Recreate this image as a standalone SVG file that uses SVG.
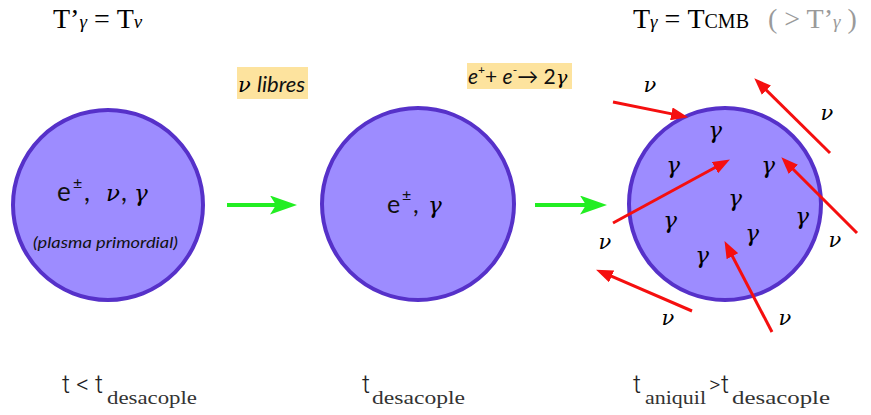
<svg xmlns="http://www.w3.org/2000/svg" width="871" height="415" viewBox="0 0 871 415">
<style>
.ball{fill:#9d8cff;stroke:#5631c9;stroke-width:4}
.ser{font-family:"Liberation Serif","DejaVu Serif",serif;fill:#000}
.sans{font-family:Lato,"Open Sans","Liberation Sans",sans-serif;fill:#111}
.gi{font-family:"DejaVu Serif","Liberation Serif",serif;font-style:italic;fill:#000}
.red{stroke:#f50f0f;stroke-width:3;fill:none}
.grn{stroke:#22ee22;stroke-width:4;fill:none}
.tag{fill:#fde39e}
.bot{font-family:Roboto,"Liberation Sans",sans-serif;font-weight:300;fill:#222}
.sub{font-family:"Liberation Serif","DejaVu Serif",serif;fill:#333}
</style>
<defs>
<marker id="rh" markerUnits="userSpaceOnUse" markerWidth="17" markerHeight="13" refX="8" refY="6.5" orient="auto" viewBox="0 0 17 13">
<path d="M0,0 L17,6.5 L0,13 z" fill="#f50f0f"/>
</marker>
<marker id="gh" markerUnits="userSpaceOnUse" markerWidth="27" markerHeight="19" refX="14" refY="9.5" orient="auto" viewBox="0 0 27 19">
<path d="M0,0 L27,9.5 L0,19 L6,9.5 z" fill="#22ee22"/>
</marker>
</defs>

<g id="titles">
<text class="ser" x="53" y="28" font-size="28">T’<tspan font-size="19" font-style="italic">γ</tspan> = T<tspan font-size="19" font-style="italic">ν</tspan></text>
<text class="ser" x="633" y="28" font-size="28">T<tspan font-size="19" font-style="italic">γ</tspan> = T<tspan font-size="20">CMB</tspan></text>
<text class="ser" x="768" y="28" font-size="28" style="fill:#9a9a9a">( &gt; T’<tspan font-size="19" font-style="italic">γ</tspan> )</text>
</g>

<g id="node-plasma">
<circle class="ball" cx="108" cy="205" r="95"/>
<text class="sans" x="57" y="201" font-size="26">e</text>
<text class="sans" x="73" y="189" font-size="16">±</text>
<text class="sans" x="84" y="201" font-size="26">,</text>
<text class="gi" x="106" y="201" font-size="23">ν</text>
<text class="sans" x="121" y="201" font-size="26">,</text>
<text class="gi" x="134" y="201" font-size="23">γ</text>
<text class="sans" x="33" y="248" font-size="16" font-style="italic" textLength="145" lengthAdjust="spacingAndGlyphs">(plasma primordial)</text>
</g>

<g id="node-desacople">
<circle class="ball" cx="418" cy="204" r="96"/>
<text class="sans" x="387" y="213" font-size="25">e</text>
<text class="sans" x="402" y="201" font-size="16">±</text>
<text class="sans" x="413" y="213" font-size="25">,</text>
<text class="gi" x="428" y="213" font-size="23">γ</text>
</g>

<g id="node-aniquil">
<circle class="ball" cx="725" cy="204" r="96"/>
<g class="gi" font-size="23" text-anchor="middle">
<text x="715" y="138">γ</text>
<text x="673" y="173">γ</text>
<text x="768" y="173">γ</text>
<text x="735" y="206">γ</text>
<text x="670" y="228">γ</text>
<text x="802" y="224">γ</text>
<text x="752" y="241">γ</text>
<text x="702" y="263">γ</text>
</g>
</g>

<g id="label-libres">
<rect class="tag" x="237" y="67" width="71" height="32"/>
<text class="gi" x="238" y="92" font-size="21">ν</text>
<text class="sans" x="257" y="92" font-size="22" font-style="italic">libres</text>
</g>

<g id="label-reaccion">
<rect class="tag" x="467" y="63" width="105" height="26"/>
<text class="sans" x="468" y="84" font-size="21"><tspan font-style="italic">e</tspan><tspan font-size="12" dy="-10">+</tspan><tspan dy="10">+ </tspan><tspan font-style="italic">e</tspan><tspan font-size="12" dy="-10">-</tspan><tspan dy="10">→ 2</tspan></text>
<text class="gi" x="556" y="84" font-size="19">γ</text>
</g>

<g id="nu-labels" class="gi" font-size="21" text-anchor="middle">
<text x="650" y="92">ν</text>
<text x="827" y="120">ν</text>
<text x="605" y="249">ν</text>
<text x="835" y="247">ν</text>
<text x="668" y="325">ν</text>
<text x="785" y="325">ν</text>
</g>

<g id="connectors">
<line class="grn" x1="227" y1="205" x2="284" y2="205" marker-end="url(#gh)"/>
<line class="grn" x1="535" y1="205" x2="594" y2="205" marker-end="url(#gh)"/>
<line class="red" x1="613" y1="102" x2="679.2" y2="115.4" marker-end="url(#rh)"/>
<line class="red" x1="830" y1="153" x2="760.7" y2="84.6" marker-end="url(#rh)"/>
<line class="red" x1="613" y1="223" x2="722" y2="163.8" marker-end="url(#rh)"/>
<line class="red" x1="857" y1="233" x2="787.7" y2="163.7" marker-end="url(#rh)"/>
<line class="red" x1="692" y1="311" x2="604.3" y2="273.2" marker-end="url(#rh)"/>
<line class="red" x1="772" y1="332" x2="728.7" y2="249.1" marker-end="url(#rh)"/>
</g>

<g id="bottom-labels">
<text class="bot" x="62" y="393" font-size="25">t &lt; t</text>
<text class="sub" x="107" y="404" font-size="19" textLength="90" lengthAdjust="spacingAndGlyphs">desacople</text>
<text class="bot" x="362" y="393" font-size="25">t</text>
<text class="sub" x="372" y="404" font-size="19" textLength="93" lengthAdjust="spacingAndGlyphs">desacople</text>
<text class="bot" x="633" y="393" font-size="25">t</text>
<text class="sub" x="645" y="404" font-size="19" textLength="61" lengthAdjust="spacingAndGlyphs">aniquil</text>
<text class="bot" x="709" y="392" font-size="22">&gt;</text>
<text class="bot" x="721" y="393" font-size="25">t</text>
<text class="sub" x="732" y="404" font-size="19" textLength="98" lengthAdjust="spacingAndGlyphs">desacople</text>
</g>
</svg>
